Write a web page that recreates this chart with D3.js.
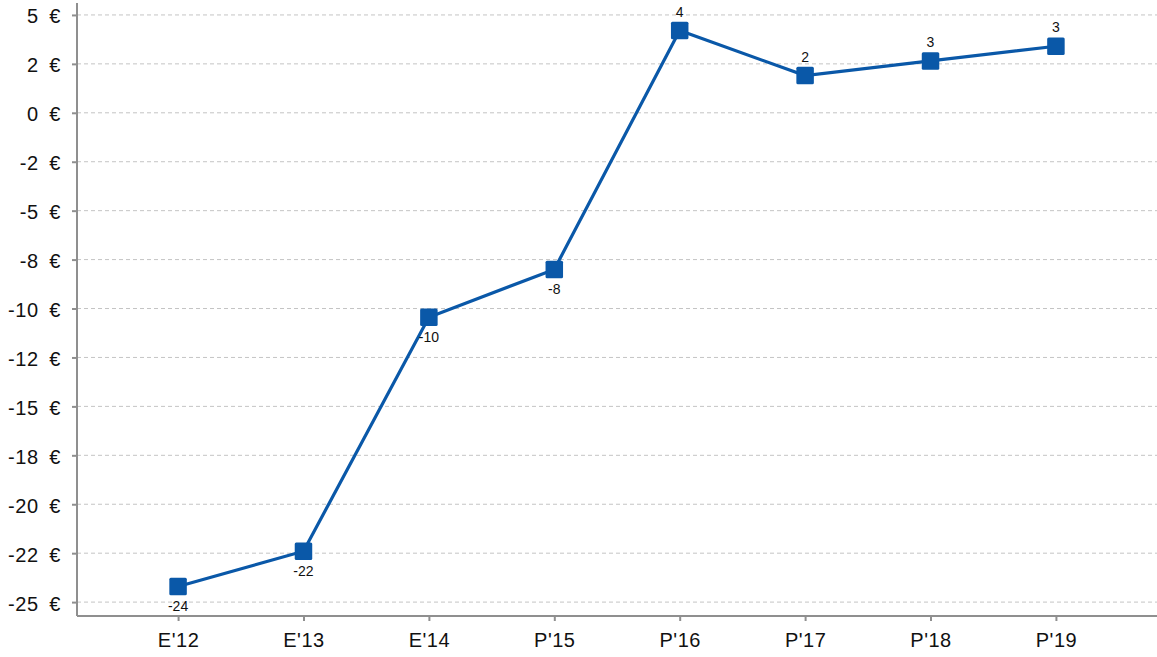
<!DOCTYPE html>
<html><head><meta charset="utf-8">
<script src="https://cdn.jsdelivr.net/npm/d3@7"></script>
<style>body{margin:0;background:#fff}svg{display:block;font-family:"Liberation Sans",Arial,sans-serif}</style>
</head><body><svg id="c" width="1157" height="657"></svg>
<script>
const categories = ["E'12","E'13","E'14","P'15","P'16","P'17","P'18","P'19"];
const values = [-24.2,-22.4,-10.45,-8.0,4.2,1.9,2.65,3.4];
const dataLabels = ["-24","-22","-10","-8","4","2","3","3"];
const tickValues = [5,2.5,0,-2.5,-5,-7.5,-10,-12.5,-15,-17.5,-20,-22.5,-25];
const tickLabels = ["5 €","2 €","0 €","-2 €","-5 €","-8 €","-10 €","-12 €","-15 €","-18 €","-20 €","-22 €","-25 €"];

const svg = d3.select("#c");
const L = 77, R = 1157, T = 3, B = 616;
const x = d3.scalePoint().domain(categories).range([L, R]).padding(0.806);
const y = d3.scaleLinear().domain([-25.71, 5.61]).range([B, T]);
const color = "#0a58a8";
const axisColor = "#8f8f8f";

// grid
svg.append("g").selectAll("line").data(tickValues).join("line")
  .attr("x1", L).attr("x2", R).attr("y1", d=>y(d)).attr("y2", d=>y(d))
  .attr("stroke", "#c4c4c4").attr("stroke-dasharray", "4,3").attr("stroke-width", 1);

// y axis
const ya = svg.append("g").attr("transform", `translate(${L},0)`)
  .call(d3.axisLeft(y).tickValues(tickValues).tickFormat((d,i)=>tickLabels[i].replace(" ", "\u2002")).tickSize(5).tickPadding(11));
ya.select(".domain").attr("stroke", axisColor).attr("stroke-width", 2).attr("d", `M0,${T}V${B}`);
ya.selectAll(".tick line").attr("stroke", axisColor).attr("stroke-width", 2);
ya.selectAll(".tick text").attr("font-size", 20).attr("letter-spacing", 0.6).attr("dy", "0.4em").attr("fill", "#111").attr("font-family", "Liberation Sans, Arial, sans-serif");

// x axis
const xa = svg.append("g").attr("transform", `translate(0,${B})`)
  .call(d3.axisBottom(x).tickSize(5).tickPadding(12));
xa.select(".domain").attr("stroke", axisColor).attr("stroke-width", 2).attr("d", `M${L},0H${R}`);
xa.selectAll(".tick line").attr("stroke", axisColor).attr("stroke-width", 2);
xa.selectAll(".tick text").attr("font-size", 20).attr("letter-spacing", 0.5).attr("fill", "#111").attr("font-family", "Liberation Sans, Arial, sans-serif");

// line
svg.append("path").datum(values)
  .attr("d", d3.line().x((d,i)=>x(categories[i])).y(d=>y(d)))
  .attr("fill", "none").attr("stroke", color).attr("stroke-width", 3.2);

// markers
const s = 17.5;
svg.append("g").selectAll("rect").data(values).join("rect")
  .attr("x", (d,i)=>x(categories[i]) - s/2).attr("y", d=>y(d) - s/2)
  .attr("width", s).attr("height", s).attr("rx", 1.5).attr("fill", color);

// labels
svg.append("g").selectAll("text").data(values).join("text")
  .attr("x", (d,i)=>x(categories[i]))
  .attr("y", d=> d < 0 ? y(d) + 25 : y(d) - 14)
  .attr("text-anchor", "middle").attr("font-size", 14).attr("fill", "#111")
  .text((d,i)=>dataLabels[i]);
</script></body></html>
